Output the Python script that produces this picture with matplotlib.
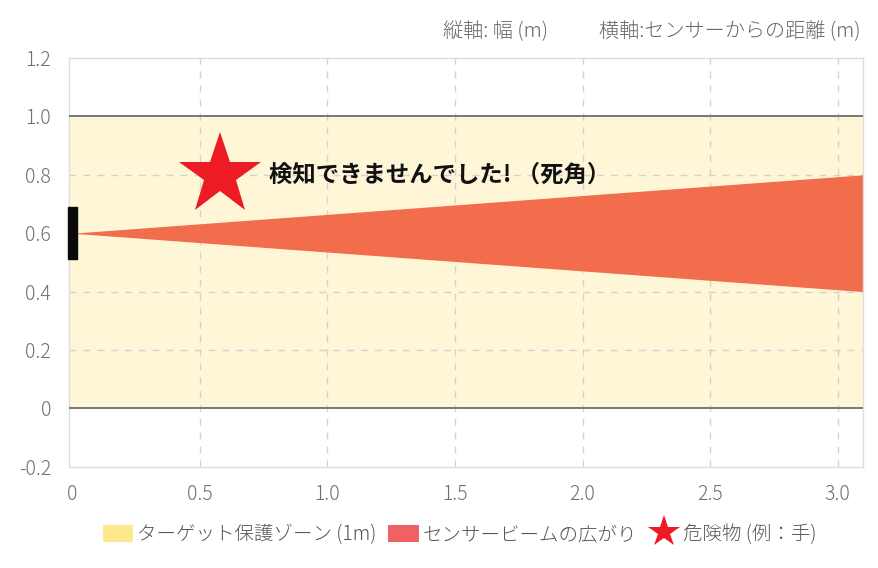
import matplotlib
matplotlib.use('Agg')
import matplotlib.pyplot as plt
from matplotlib.patches import Patch, Rectangle
from matplotlib.lines import Line2D

plt.rcParams['font.family'] = ['Noto Sans CJK JP', 'DejaVu Sans']

# data
zone_y = [0.0, 1.0]                 # target protection zone (1m)
beam_x = [0.0, 3.1]                 # distance from sensor
beam_top = [0.6, 0.8]
beam_bottom = [0.6, 0.4]
sensor_x = 0.0
sensor_y = [0.51, 0.69]
hazard_x = [0.58]
hazard_y = [0.80]
note_text = '検知できませんでした! （死角）'
x_ticks = [0, 0.5, 1.0, 1.5, 2.0, 2.5, 3.0]
x_labels = ['0', '0.5', '1.0', '1.5', '2.0', '2.5', '3.0']
y_ticks = [-0.2, 0, 0.2, 0.4, 0.6, 0.8, 1.0, 1.2]
y_labels = ['-0.2', '0', '0.2', '0.4', '0.6', '0.8', '1.0', '1.2']
grid_x = [0.5, 1.0, 1.5, 2.0, 2.5, 3.0]
grid_y = [0.2, 0.4, 0.8]
legend_labels = ['ターゲット保護ゾーン (1m)', 'センサービームの広がり', '危険物 (例：手)']

fig = plt.figure(figsize=(8.79, 5.68), dpi=100)
ax = fig.add_axes([0.0785, 0.178, 0.9035, 0.72])
ax.set_xlim(-0.013, 3.1)
ax.set_ylim(-0.2, 1.2)

# zone
ax.axhspan(zone_y[0], zone_y[1], color='#FFF6D8', lw=0, zorder=0)
for yv in zone_y:
    ax.axhline(yv, color='#777777', lw=1.4, zorder=4)

# grid (drawn by hand, no line at x=0 or y=0.6)
for xv in grid_x:
    ax.axvline(xv, color='#D2D2D2', ls=(0, (5, 5)), lw=1, zorder=1)
for yv in grid_y:
    ax.axhline(yv, color='#D2D2D2', ls=(0, (5, 5)), lw=1, zorder=1)

ax.set_xticks(x_ticks)
ax.set_xticklabels(x_labels)
ax.set_yticks(y_ticks)
ax.set_yticklabels(y_labels)

# beam
ax.fill_between(beam_x, beam_bottom, beam_top, color='#F26D4B', lw=0, zorder=2)

# sensor
ax.add_patch(Rectangle((sensor_x - 0.017, sensor_y[0]), 0.034, sensor_y[1] - sensor_y[0],
                       color='#0A0A0A', zorder=5, clip_on=False))

# hazard star + note
ax.plot(hazard_x, hazard_y, marker='*', ms=62, color='#ED1C24', mew=0, ls='none', zorder=6)
ax.text(hazard_x[0] + 0.19, hazard_y[0], note_text, fontsize=16.8, fontweight='bold',
        color='#111111', va='center', ha='left', zorder=6)

for s in ax.spines.values():
    s.set_color('#DDDDDD')
    s.set_linewidth(1)
ax.tick_params(length=0, labelsize=14, colors='#707070')
ax.tick_params(axis='x', pad=12)
ax.tick_params(axis='y', pad=13)
for lab in ax.get_xticklabels() + ax.get_yticklabels():
    lab.set_fontweight('light')

# axis captions at top
fig.text(0.504, 0.945, '縦軸: 幅 (m)', fontsize=14.5, color='#666666', ha='left', va='center',
         fontweight='light')
fig.text(0.682, 0.945, '横軸:センサーからの距離 (m)', fontsize=14.5, color='#666666', ha='left',
         va='center', fontweight='light')

handles = [
    Patch(facecolor='#FDE98B', edgecolor='none'),
    Patch(facecolor='#F06163', edgecolor='none'),
    Line2D([0], [0], marker='*', color='#ED1C24', ms=24, ls='none', mew=0),
]
fig.legend(handles, legend_labels, loc='center', bbox_to_anchor=(0.523, 0.059), ncol=3,
           frameon=False, labelcolor='#555555', handlelength=1.55,
           handleheight=0.95, handletextpad=0.2, columnspacing=0.6,
           prop={'weight': 'light', 'size': 14})

fig.savefig('out.png', dpi=100, facecolor='white')
